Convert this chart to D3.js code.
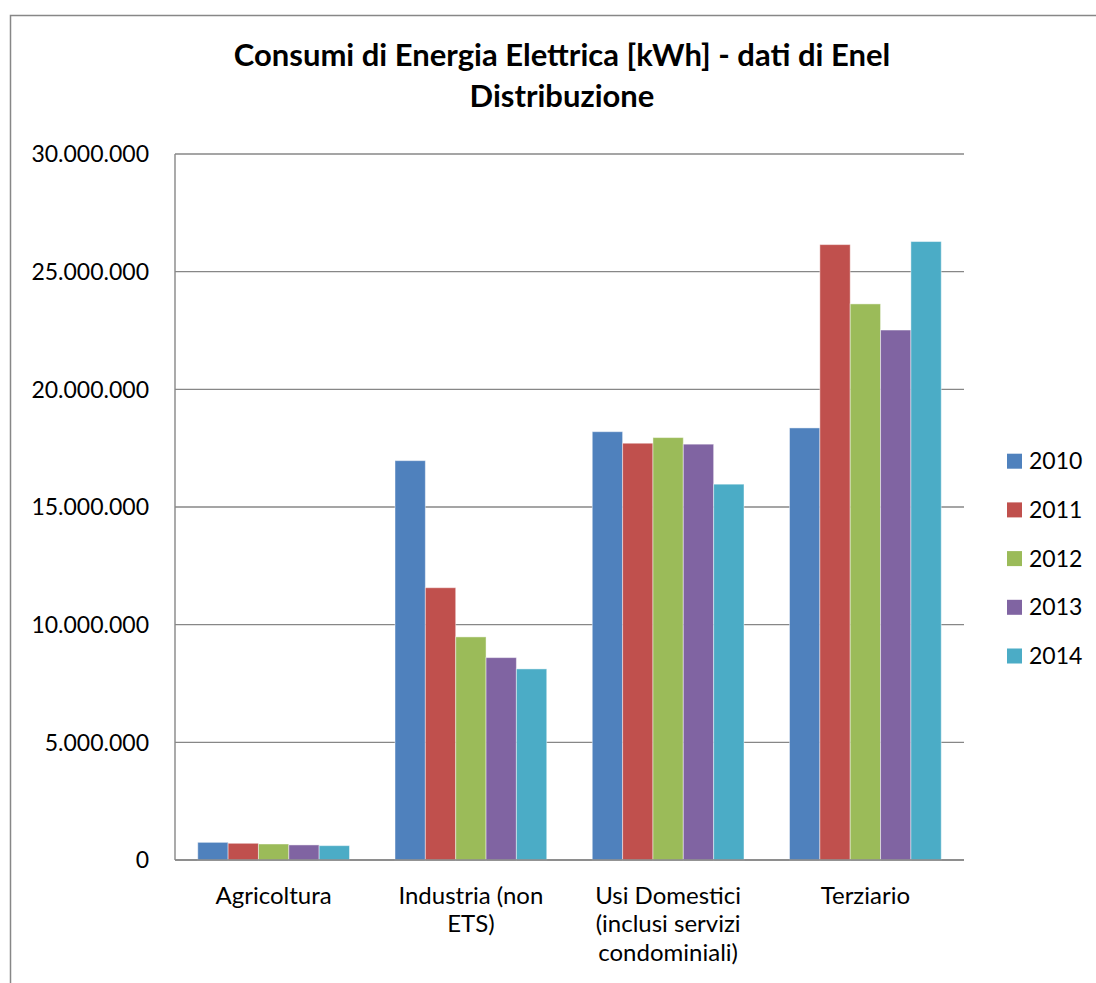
<!DOCTYPE html>
<html>
<head>
<meta charset="utf-8">
<script src="https://cdn.jsdelivr.net/npm/d3@7"></script>
<style>
  html, body { margin: 0; padding: 0; background: #fff; }
  svg { display: block; }
  text { font-family: Lato, "Open Sans", "DejaVu Sans", sans-serif; fill: #000; }
</style>
</head>
<body>
<svg id="chart" width="1096" height="983"></svg>
<script>
const categories = [
  ["Agricoltura"],
  ["Industria (non", "ETS)"],
  ["Usi Domestici", "(inclusi servizi", "condominiali)"],
  ["Terziario"]
];
const series = ["2010", "2011", "2012", "2013", "2014"];
const colors = ["#4F81BD", "#C0504D", "#9BBB59", "#8064A2", "#4BACC6"];
// values per series (one per category), in kWh
const v2010 = [750000, 16970000, 18200000, 18360000];
const v2011 = [710000, 11570000, 17710000, 26150000];
const v2012 = [680000, 9480000, 17950000, 23630000];
const v2013 = [640000, 8600000, 17670000, 22520000];
const v2014 = [610000, 8120000, 15970000, 26280000];
const values = [v2010, v2011, v2012, v2013, v2014];
const yTicks = [0, 5000000, 10000000, 15000000, 20000000, 25000000, 30000000];
const titleLines = ["Consumi di Energia Elettrica [kWh] - dati di Enel", "Distribuzione"];

const svg = d3.select("#chart");
const plot = {left: 175, right: 964, top: 154, bottom: 860};

// outer chart border
svg.append("rect").attr("x", 10.5).attr("y", 15.5).attr("width", 1200).attr("height", 1200)
  .attr("fill", "none").attr("stroke", "#878787").attr("stroke-width", 1.5);

const x0 = d3.scaleBand().domain(d3.range(categories.length)).range([plot.left, plot.right]).paddingInner(0).paddingOuter(0);
const band = x0.bandwidth();
const barW = band / (series.length + 1.5);
const x1 = d3.scaleBand().domain(d3.range(series.length))
  .range([(band - barW * series.length) / 2, (band + barW * series.length) / 2]).padding(0);
const y = d3.scaleLinear().domain([0, 30000000]).range([plot.bottom, plot.top]);

const fmt = v => d3.format(",")(v).replace(/,/g, ".");

// gridlines
svg.append("g").selectAll("line").data(yTicks).join("line")
  .attr("x1", plot.left).attr("x2", plot.right)
  .attr("y1", d => y(d)).attr("y2", d => y(d))
  .attr("stroke", "#878787").attr("stroke-width", 1.4);

// y tick labels
svg.append("g").selectAll("text").data(yTicks).join("text")
  .attr("x", 149).attr("y", d => y(d)).attr("dy", "0.36em")
  .attr("text-anchor", "end").attr("font-size", 23)
  .text(fmt);

// bars
const g = svg.append("g");
series.forEach((s, si) => {
  g.append("g").selectAll("rect").data(values[si]).join("rect")
    .attr("x", (d, ci) => x0(ci) + x1(si))
    .attr("y", d => y(d))
    .attr("width", x1.bandwidth())
    .attr("height", d => y(0) - y(d))
    .attr("fill", colors[si])
    .attr("stroke", "rgba(255,255,255,0.45)").attr("stroke-width", 1);
});

// axes lines
svg.append("line").attr("x1", plot.left).attr("x2", plot.left).attr("y1", plot.top).attr("y2", plot.bottom)
  .attr("stroke", "#878787").attr("stroke-width", 1.4);
svg.append("line").attr("x1", plot.left).attr("x2", plot.right).attr("y1", plot.bottom).attr("y2", plot.bottom)
  .attr("stroke", "#878787").attr("stroke-width", 1.4);

// category labels
const cg = svg.append("g");
categories.forEach((lines, ci) => {
  lines.forEach((ln, li) => {
    cg.append("text").attr("text-anchor", "middle").attr("font-size", 24)
      .attr("x", x0(ci) + band / 2).attr("y", 903.5 + li * 28.5).text(ln);
  });
});

// title
titleLines.forEach((ln, i) => {
  svg.append("text").attr("text-anchor", "middle").attr("font-size", 31).attr("font-weight", "bold")
    .attr("x", 562).attr("y", 66 + i * 41).text(ln);
});

// legend
const lg = svg.append("g");
series.forEach((s, si) => {
  const cy = 461 + si * 48.7;
  lg.append("rect").attr("x", 1007).attr("y", cy - 7.3).attr("width", 15).attr("height", 15).attr("fill", colors[si]);
  lg.append("text").attr("x", 1029).attr("y", cy).attr("dy", "0.36em").attr("font-size", 23).text(s);
});
</script>
</body>
</html>
